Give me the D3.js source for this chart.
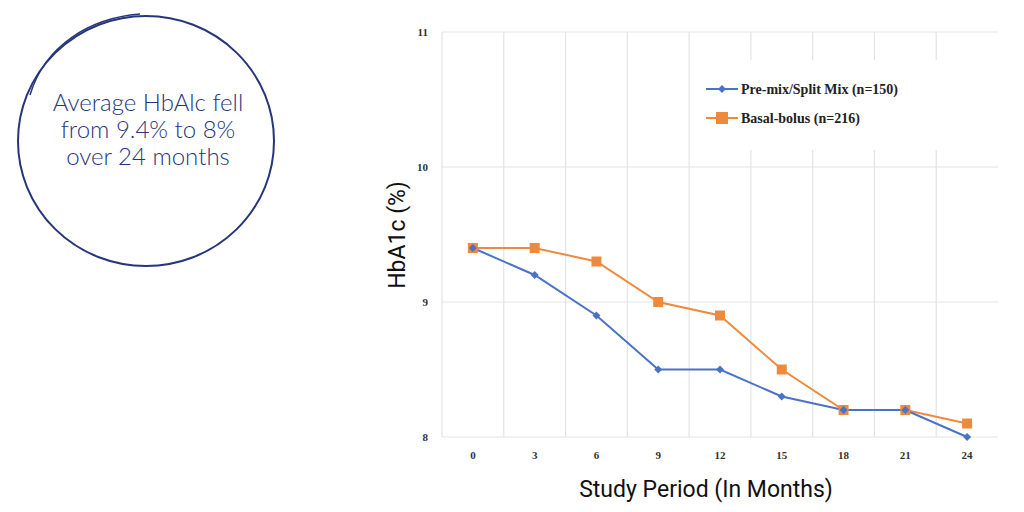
<!DOCTYPE html>
<html>
<head>
<meta charset="utf-8">
<script src="https://cdn.jsdelivr.net/npm/d3@7"></script>
<style>
  body { margin: 0; background: #fff; }
</style>
</head>
<body>
<svg id="chart" width="1024" height="512"></svg>
<script>
// chart data
var months   = ['0', '3', '6', '9', '12', '15', '18', '21', '24'];
var premix   = [9.4, 9.2, 8.9, 8.5, 8.5, 8.3, 8.2, 8.2, 8.0];
var basal    = [9.4, 9.4, 9.3, 9.0, 8.9, 8.5, 8.2, 8.2, 8.1];
var yTicks   = [8, 9, 10, 11];
var seriesNames = ['Pre-mix/Split Mix (n=150)', 'Basal-bolus (n=216)'];

var svg = d3.select('#chart');
var navy = '#27367a';

// callout circle
var callout = svg.append('g');
callout.append('ellipse')
       .attr('cx', 146).attr('cy', 141).attr('rx', 128).attr('ry', 125)
       .attr('fill', 'none').attr('stroke', navy).attr('stroke-width', 2);
callout.append('path')
       .attr('d', 'M30,95 C45,45 90,18 140,14')
       .attr('fill', 'none').attr('stroke', navy).attr('stroke-width', 1.5);
var lines = ['Average HbAlc fell', 'from 9.4% to 8%', 'over 24 months'];
callout.selectAll('text')
       .data(lines)
       .enter().append('text')
       .attr('x', 148)
       .attr('y', function(d, i) { return 111 + i * 27; })
       .attr('text-anchor', 'middle')
       .attr('font-family', 'Lato, sans-serif')
       .attr('font-weight', 300)
       .attr('font-size', 24)
       .attr('fill', navy)
       .text(function(d) { return d; });

// plot area
var plotLeft = 442, plotRight = 998, plotTop = 32, plotBottom = 437;

var x = d3.scaleBand().domain(months).range([plotLeft, plotRight]);
var y = d3.scaleLinear().domain([8, 11]).range([plotBottom, plotTop]);

var grid = svg.append('g').attr('stroke', '#e3e3e3').attr('stroke-width', 1.2);
grid.selectAll('line.h')
    .data(yTicks)
    .enter().append('line')
    .attr('x1', plotLeft).attr('x2', plotRight)
    .attr('y1', function(d) { return y(d); })
    .attr('y2', function(d) { return y(d); });
grid.selectAll('line.v')
    .data(months.slice(1))
    .enter().append('line')
    .attr('x1', function(d) { return x(d); })
    .attr('x2', function(d) { return x(d); })
    .attr('y1', plotTop).attr('y2', plotBottom);
grid.append('line')
    .attr('x1', plotLeft).attr('x2', plotLeft).attr('y1', plotTop).attr('y2', plotBottom);

var tickFont = 'Liberation Serif, Times New Roman, serif';
svg.append('g').selectAll('text')
   .data(yTicks)
   .enter().append('text')
   .attr('x', 428).attr('y', function(d) { return y(d) + 4; })
   .attr('text-anchor', 'end')
   .attr('font-family', tickFont).attr('font-weight', 'bold').attr('font-size', 11)
   .attr('fill', '#333')
   .text(function(d) { return d; });

var cx = function(d, i) { return x(months[i]) + x.bandwidth() / 2; };

svg.append('g').selectAll('text')
   .data(months)
   .enter().append('text')
   .attr('x', function(d) { return x(d) + x.bandwidth() / 2; })
   .attr('y', 459)
   .attr('text-anchor', 'middle')
   .attr('font-family', tickFont).attr('font-weight', 'bold').attr('font-size', 11)
   .attr('fill', '#333')
   .text(function(d) { return d; });

// axis titles
svg.append('text')
   .attr('x', 706).attr('y', 497)
   .attr('text-anchor', 'middle')
   .attr('font-family', 'Roboto, sans-serif').attr('font-size', 23)
   .attr('fill', '#111')
   .text('Study Period (In Months)');
svg.append('text')
   .attr('transform', 'translate(405,235) rotate(-90)')
   .attr('text-anchor', 'middle')
   .attr('font-family', 'Roboto, sans-serif').attr('font-size', 23)
   .attr('fill', '#111')
   .text('HbA1c (%)');

// legend background
svg.append('rect')
   .attr('x', 690).attr('y', 60).attr('width', 300).attr('height', 90)
   .attr('fill', '#fff');

var blue = '#4a72c9', orange = '#ee8a3e';
var line = d3.line().x(cx).y(function(d) { return y(d); });

svg.append('path').datum(basal)
   .attr('d', line).attr('fill', 'none').attr('stroke', orange).attr('stroke-width', 2);
svg.append('path').datum(premix)
   .attr('d', line).attr('fill', 'none').attr('stroke', blue).attr('stroke-width', 2);

svg.append('g').selectAll('rect')
   .data(basal)
   .enter().append('rect')
   .attr('x', function(d, i) { return cx(d, i) - 5; })
   .attr('y', function(d) { return y(d) - 5; })
   .attr('width', 10).attr('height', 10)
   .attr('fill', orange);
svg.append('g').selectAll('path')
   .data(premix)
   .enter().append('path')
   .attr('transform', function(d, i) { return 'translate(' + cx(d, i) + ',' + y(d) + ')'; })
   .attr('d', 'M0,-4 L4,0 L0,4 L-4,0 Z')
   .attr('fill', blue);

// legend
var legend = svg.append('g');
[blue, orange].forEach(function(c, i) {
    var ly = 89 + i * 29;
    legend.append('line')
          .attr('x1', 706).attr('x2', 738).attr('y1', ly).attr('y2', ly)
          .attr('stroke', c).attr('stroke-width', 2);
    if (i === 0) {
        legend.append('path').attr('transform', 'translate(722,' + ly + ')')
              .attr('d', 'M0,-4 L4,0 L0,4 L-4,0 Z').attr('fill', c);
    } else {
        legend.append('rect').attr('x', 716).attr('y', ly - 6)
              .attr('width', 12).attr('height', 12).attr('fill', c);
    }
    legend.append('text')
          .attr('x', 741).attr('y', ly + 5)
          .attr('font-family', tickFont).attr('font-weight', 'bold').attr('font-size', 14)
          .attr('fill', '#222')
          .text(seriesNames[i]);
});
</script>
</body>
</html>
